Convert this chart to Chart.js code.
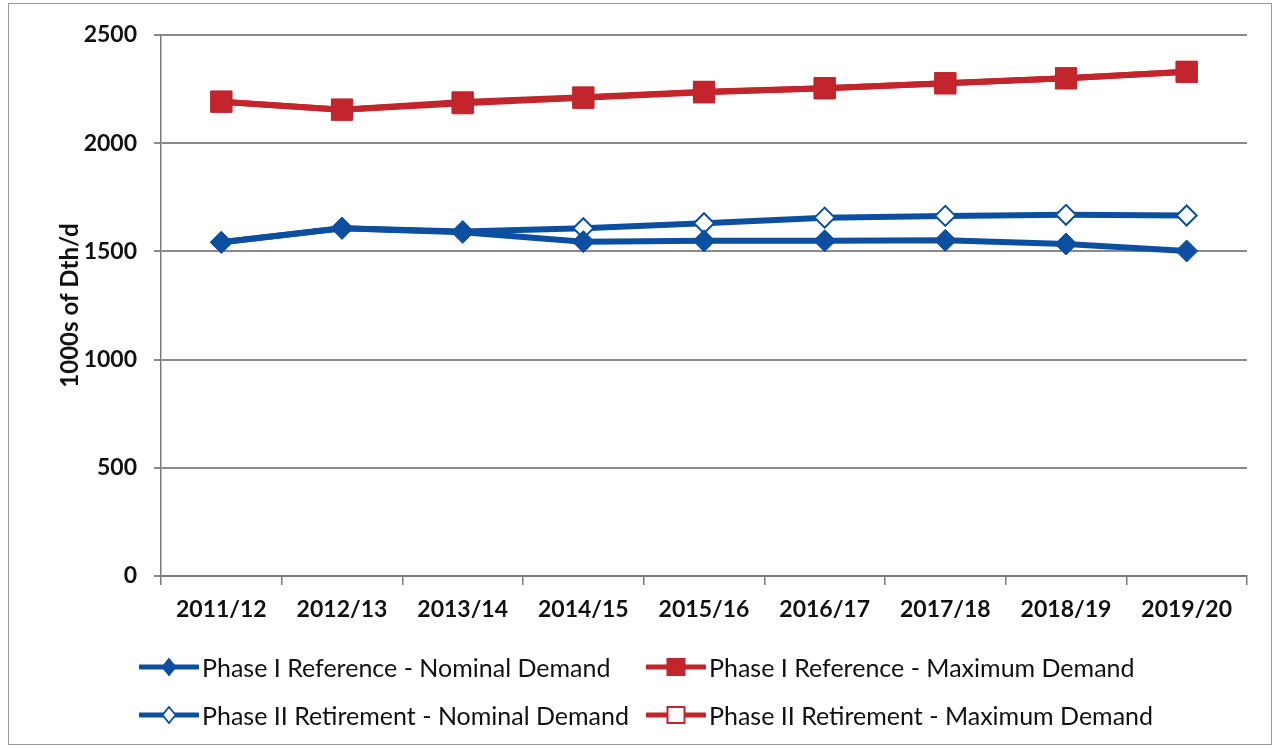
<!DOCTYPE html>
<html>
<head>
<meta charset="utf-8">
<script src="https://cdn.jsdelivr.net/npm/chart.js@4/dist/chart.umd.min.js"></script>
<style>
  html, body { margin: 0; padding: 0; background: #fff; }
  #wrap { position: relative; width: 1275px; height: 748px; overflow: hidden; }
  #frame { position: absolute; left: 8px; top: 3px; width: 1264px; height: 742px; border: 1px solid #9a9a9a; box-sizing: border-box; pointer-events: none; }
  canvas { position: absolute; left: 0; top: 0; }
  .lg { position: absolute; display: flex; align-items: center; font-family: Lato, "Open Sans", sans-serif; font-size: 25px; color: #111; white-space: nowrap; }
  .lg svg { display: block; margin-right: 3px; }
</style>
</head>
<body>
<div id="wrap">
  <canvas id="c" width="1275" height="748"></canvas>
  <div id="frame"></div>
  <div id="legend"></div>
</div>
<script>
// ---- data ----
const categories = ['2011/12', '2012/13', '2013/14', '2014/15', '2015/16', '2016/17', '2017/18', '2018/19', '2019/20'];
const phase1Nominal = [1542, 1607, 1588, 1545, 1549, 1549, 1551, 1534, 1502];
const phase1Maximum = [2192, 2155, 2185, 2210, 2235, 2254, 2277, 2300, 2330];
const phase2Nominal = [1542, 1607, 1592, 1607, 1630, 1656, 1664, 1669, 1666];
const phase2Maximum = [2192, 2155, 2190, 2212, 2238, 2254, 2277, 2300, 2330];
const yTicks = [0, 500, 1000, 1500, 2000, 2500];
const seriesNames = [
  'Phase I Reference - Nominal Demand',
  'Phase I Reference - Maximum Demand',
  'Phase II Retirement - Nominal Demand',
  'Phase II Retirement - Maximum Demand'
];
const yTitle = '1000s of Dth/d';

const BLUE = '#0c4ea0';
const RED = '#c2252c';

const datasets = [
  { label: seriesNames[0], data: phase1Nominal, borderColor: BLUE, backgroundColor: BLUE,
    pointStyle: 'rectRot', pointRadius: 11, pointBackgroundColor: BLUE, pointBorderColor: BLUE, order: 1 },
  { label: seriesNames[1], data: phase1Maximum, borderColor: RED, backgroundColor: RED,
    pointStyle: 'rect', pointRadius: 15, pointBackgroundColor: RED, pointBorderColor: RED, order: 2 },
  { label: seriesNames[2], data: phase2Nominal, borderColor: BLUE, backgroundColor: '#fff',
    pointStyle: 'rectRot', pointRadius: 10, pointBackgroundColor: '#fff', pointBorderColor: BLUE, pointBorderWidth: 2, order: 3 },
  { label: seriesNames[3], data: phase2Maximum, borderColor: RED, backgroundColor: '#fff',
    pointStyle: 'rect', pointRadius: 14, pointBackgroundColor: '#fff', pointBorderColor: RED, pointBorderWidth: 2, order: 4 }
];
datasets.forEach(d => { d.borderWidth = 6; d.tension = 0; d.fill = false; if (!d.pointBorderWidth) d.pointBorderWidth = 1; });

new Chart(document.getElementById('c'), {
  type: 'line',
  data: { labels: categories, datasets },
  options: {
    responsive: false,
    animation: false,
    events: [],
    layout: { padding: { top: 35, right: 28, bottom: 0, left: 0 } },
    plugins: { legend: { display: false }, tooltip: { enabled: false } },
    scales: {
      x: {
        offset: true,
        grid: { display: true, offset: true, drawOnChartArea: false, drawTicks: true, tickLength: 9, color: '#7a7a7a', lineWidth: 1.5 },
        border: { display: true, color: '#7a7a7a', width: 2 },
        ticks: { color: '#111', padding: 11, font: { family: 'Lato', size: 23, weight: 'bold' }, maxRotation: 0, autoSkip: false },
        afterFit: s => { s.height = 748 - 576; }
      },
      y: {
        min: 0, max: 2500,
        afterBuildTicks: s => { s.ticks = yTicks.map(v => ({ value: v })); },
        grid: { color: '#8a8a8a', lineWidth: 2, tickLength: 7 },
        border: { display: true, color: '#7a7a7a', width: 1.5 },
        ticks: { color: '#111', padding: 17, font: { family: 'Lato', size: 23, weight: 'bold' }, callback: v => String(v) },
        title: { display: true, text: yTitle, color: '#111', padding: { top: 56, bottom: 0 }, font: { family: 'Lato', size: 24, weight: 'bold' } },
        afterFit: s => { s.width = 161; }
      }
    }
  }
});

// ---- HTML legend (2 x 2) ----
function icon(color, style, filled) {
  let marker;
  if (style === 'diamond') {
    marker = `<polygon points="30,4 36.5,12 30,20 23.5,12" fill="${filled ? color : '#fff'}" stroke="${color}" stroke-width="1.8"/>`;
  } else {
    marker = `<rect x="21.5" y="4" width="17" height="16" fill="${filled ? color : '#fff'}" stroke="${color}" stroke-width="2"/>`;
  }
  return `<svg width="60" height="24" viewBox="0 0 60 24"><line x1="1" y1="12" x2="59" y2="12" stroke="${color}" stroke-width="5" stroke-linecap="round"/>${marker}</svg>`;
}
const legendSpec = [
  { name: seriesNames[0], color: BLUE, style: 'diamond', filled: true, left: 139, top: 667 },
  { name: seriesNames[1], color: RED, style: 'square', filled: true, left: 646, top: 667 },
  { name: seriesNames[2], color: BLUE, style: 'diamond', filled: false, left: 139, top: 715 },
  { name: seriesNames[3], color: RED, style: 'square', filled: false, left: 646, top: 715 }
];
const lg = document.getElementById('legend');
legendSpec.forEach(it => {
  const d = document.createElement('div');
  d.className = 'lg';
  d.style.left = it.left + 'px';
  d.style.top = (it.top - 16) + 'px';
  d.style.height = '32px';
  d.innerHTML = icon(it.color, it.style, it.filled) + '<span>' + it.name + '</span>';
  lg.appendChild(d);
});
</script>
</body>
</html>
